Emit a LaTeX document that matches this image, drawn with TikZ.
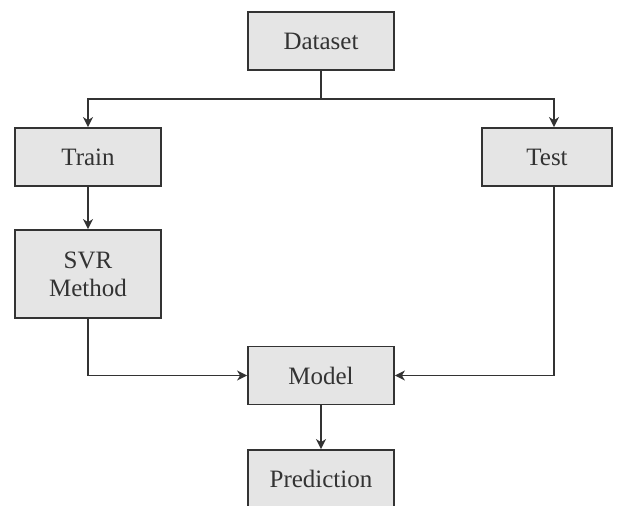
\documentclass[tikz,border=0pt]{standalone}
\usepackage{fontspec}
\setmainfont{Liberation Serif}
\usepackage{tikz}
\usetikzlibrary{arrows.meta}

\begin{document}
\begin{tikzpicture}[x=0.5pt,y=-0.5pt] % one unit is one pixel of the sketch
	\tikzset{block/.style={draw=black!80,fill=black!10,line width=0.9pt,text=black!80,
			font=\fontsize{12.5}{14}\selectfont,align=center,inner sep=0pt,
			minimum width=73pt,minimum height=29pt}}
	\tikzset{link/.style={draw=black!80,line width=0.9pt,-{Stealth[length=5pt,width=5pt,inset=1.5pt]}}}
	
	% Fix the size of the page
	\useasboundingbox (0,0) rectangle (617,505);
	
	% Boxes
	\node[block] (dataset) at (321,41) {Dataset};
	\node[block] (train) at (88,157) {Train};
	\node[block,minimum width=65pt] (test) at (547,157) {Test};
	\node[block,minimum height=44pt] (svr) at (88,274) {SVR\\Method};
	\node[block] (model) at (321,375.5) {Model};
	\node[block] (pred) at (321,479) {Prediction};
	
	% Split point under the dataset
	\coordinate (split) at (321,99);
	
	% Connectors
	\draw[link,-] (dataset.south) -- (split);
	\draw[link] (split) -| (train.north);
	\draw[link] (split) -| ([xshift=3.5pt]test.north);
	\draw[link] (train.south) -- (svr.north);
	\draw[link] (svr.south) |- (model.west);
	\draw[link] ([xshift=3.5pt]test.south) |- (model.east);
	\draw[link] (model.south) -- (pred.north);
	
\end{tikzpicture}
\end{document}
